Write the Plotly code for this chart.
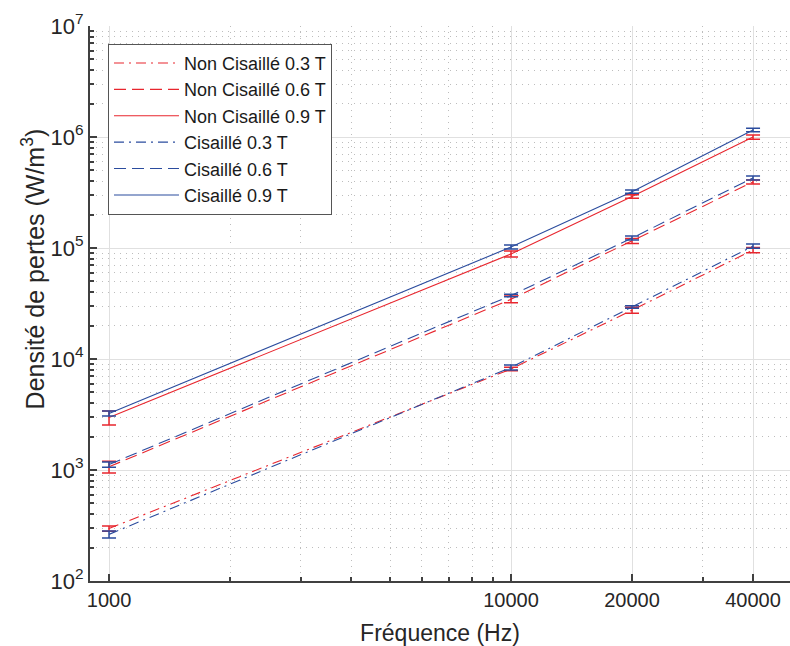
import plotly.graph_objects as go

freq = [1000, 10000, 20000, 40000]

nc03 = [297, 8130, 27500, 96000]
nc03_err = [16, 290, 1700, 5300]
nc06 = [1070, 34500, 116000, 394000]
nc06_err = [130, 2400, 6000, 16500]
nc09 = [2970, 88500, 291000, 998000]
nc09_err = [430, 5500, 11000, 45000]

c03 = [263, 8400, 29400, 104000]
c03_err = [19, 430, 800, 4700]
c06 = [1120, 37300, 123000, 428000]
c06_err = [60, 1000, 5000, 17500]
c09 = [3230, 102000, 322000, 1157000]
c09_err = [170, 4200, 11000, 40000]

names = ["Non Cisaillé 0.3 T", "Non Cisaillé 0.6 T", "Non Cisaillé 0.9 T",
         "Cisaillé 0.3 T", "Cisaillé 0.6 T", "Cisaillé 0.9 T"]

x_ticks = [1000, 10000, 20000, 40000]
x_tick_labels = ["1000", "10000", "20000", "40000"]
y_ticks = [1e2, 1e3, 1e4, 1e5, 1e6, 1e7]
y_tick_labels = ["10<sup>2</sup>", "10<sup>3</sup>", "10<sup>4</sup>",
                 "10<sup>5</sup>", "10<sup>6</sup>", "10<sup>7</sup>"]
x_title = "Fréquence (Hz)"
y_title = "Densité de pertes (W/m<sup>3</sup>)"

RED = "#E8262E"
BLUE = "#2B4C9E"
DASHDOT = "10px,5px,2px,5px"
DASH = "12px,6px"

series = [
    (nc03, nc03_err, RED, DASHDOT),
    (nc06, nc06_err, RED, DASH),
    (nc09, nc09_err, RED, "solid"),
    (c03, c03_err, BLUE, DASHDOT),
    (c06, c06_err, BLUE, DASH),
    (c09, c09_err, BLUE, "solid"),
]

fig = go.Figure()
for name, (vals, errs, col, dash) in zip(names, series):
    fig.add_trace(go.Scatter(
        x=freq, y=vals, name=name, mode="lines",
        line=dict(color=col, width=1.1, dash=dash),
        error_y=dict(type="data", array=errs, visible=True, color=col,
                     thickness=1.5, width=7),
    ))

FONT = "Liberation Sans, Arial, Helvetica, sans-serif"
AXC = "#404040"
GRID = "#e0e0e0"
MGRID = "#bdbdbd"

x_minor = [m * 10 ** e for e in (3, 4) for m in range(2, 10) if m * 10 ** e < 50000]
y_minor = [m * 10 ** e for e in range(2, 7) for m in range(2, 10)]

fig.update_layout(
    width=790, height=646,
    margin=dict(l=90, r=0, t=26, b=65),
    paper_bgcolor="white", plot_bgcolor="white",
    font=dict(family=FONT, color="#262626"),
    showlegend=True,
    legend=dict(
        x=0.0257, y=0.968, xanchor="left", yanchor="top",
        bgcolor="white", bordercolor="#555555", borderwidth=1,
        font=dict(size=18, color="#1a1a1a", family=FONT),
        itemwidth=65, tracegroupgap=0,
    ),
    xaxis=dict(
        type="log", range=[2.9527, 4.694], automargin=False,
        tickmode="array", tickvals=x_ticks, ticktext=x_tick_labels,
        ticks="inside", ticklen=7, tickcolor=AXC, tickwidth=1.5,
        showline=True, linecolor=AXC, linewidth=2, mirror=False,
        showgrid=True, gridcolor=GRID, gridwidth=1,
        zeroline=False,
        tickfont=dict(size=20, color="#262626"),
        title=dict(text=x_title, font=dict(size=23, color="#262626"), standoff=17),
        minor=dict(tickmode="array", tickvals=x_minor, ticks="inside", ticklen=4,
                   tickcolor=AXC, showgrid=True, gridcolor=MGRID, griddash="1px,5px", gridwidth=1),
    ),
    yaxis=dict(
        type="log", range=[2, 7], automargin=False,
        tickmode="array", tickvals=y_ticks, ticktext=y_tick_labels,
        ticks="inside", ticklen=7, tickcolor=AXC, tickwidth=1.5,
        showline=True, linecolor=AXC, linewidth=2, mirror=False,
        showgrid=True, gridcolor=GRID, gridwidth=1,
        zeroline=False,
        tickfont=dict(size=22, color="#262626"),
        minor=dict(tickmode="array", tickvals=y_minor, ticks="inside", ticklen=4,
                   tickcolor=AXC, showgrid=True, gridcolor=MGRID, griddash="1px,5px", gridwidth=1),
    ),
    annotations=[dict(
        text=y_title, textangle=-90, showarrow=False,
        xref="paper", yref="paper", x=-0.081, y=0.562,
        xanchor="center", yanchor="middle",
        font=dict(size=25, color="#262626", family=FONT),
    )],
)

fig.write_html("out.html", config={"displayModeBar": False},
               post_script="document.body.style.margin='0';")
